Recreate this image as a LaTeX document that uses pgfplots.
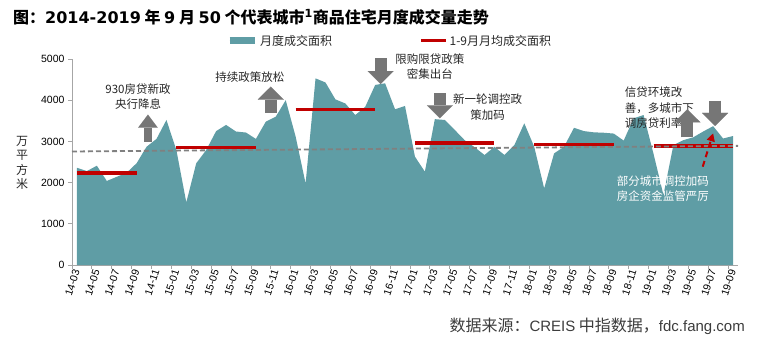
\documentclass[border=0pt]{standalone}
\usepackage{pgfplots}
\pgfplotsset{compat=1.18}
\usepackage{fontspec}
\setmainfont{Liberation Sans}
\newfontfamily\cjk{Noto Sans CJK SC}
\newfontfamily\dejab{DejaVu Sans}
\usetikzlibrary{arrows.meta}
\definecolor{areac}{RGB}{95,157,165}
\definecolor{redl}{RGB}{192,0,0}
\definecolor{trend}{RGB}{128,128,128}
\definecolor{arrg}{RGB}{118,118,118}
\definecolor{axc}{RGB}{166,166,166}
\definecolor{txt}{RGB}{38,38,38}
\newcommand\annfont{\fontsize{11.5bp}{15.5bp}\selectfont}
\newcommand\lat[1]{{\dejab\bfseries #1}}
\begin{document}
\begin{tikzpicture}
\path[use as bounding box] (-72bp,-78bp) rectangle (686bp,265bp);
\begin{axis}[
  at={(0,0)}, anchor=south west,
  scale only axis, width=666bp, height=206bp,
  xmin=-0.5, xmax=66.5, ymin=0, ymax=5000,
  axis x line*=bottom, axis y line*=left,
  axis line style={draw=axc, line width=0.8bp, -},
  clip=false,
  ytick={0,1000,...,5000},
  /pgf/number format/assume math mode=true,
  /pgf/number format/1000 sep={},
  yticklabel style={font=\fontsize{10.5bp}{12bp}\selectfont, text=black},
  tick align=outside, major tick length=4bp, minor tick length=4bp,
  ytick style={draw=axc, line width=0.8bp},
  xtick={0,2,...,66},
  xticklabels={14-03,14-05,14-07,14-09,14-11,15-01,15-03,15-05,15-07,15-09,15-11,16-01,16-03,16-05,16-07,16-09,16-11,17-01,17-03,17-05,17-07,17-09,17-11,18-01,18-03,18-05,18-07,18-09,18-11,19-01,19-03,19-05,19-07,19-09},
  xticklabel style={rotate=72, anchor=east, font=\fontsize{10.5bp}{12bp}\selectfont, text=black, inner sep=1bp},
  major x tick style={draw=none},
  minor xtick={-0.5,1.5,...,65.5},
  minor x tick style={draw=axc, line width=0.8bp},
  legend columns=2,
  legend style={draw=none, fill=none, at={(0.2267,1.089)}, anchor=west,
    font=\cjk\fontsize{12bp}{14bp}\selectfont, text=txt,
    /tikz/every even column/.append style={column sep=85bp}},
]
\addplot[fill=areac, draw=none,
  legend image code/.code={\draw[line width=7bp, areac] (0bp,0bp) -- (25bp,0bp);}]
  coordinates {
(0,2360) (1,2280) (2,2410) (3,2040) (4,2140) (5,2240) (6,2470) (7,2870) (8,3060) (9,3520)
(10,2790) (11,1520) (12,2470) (13,2790) (14,3250) (15,3400) (16,3240) (17,3215) (18,3060) (19,3480)
(20,3600) (21,4000) (22,3115) (23,1980) (24,4530) (25,4430) (26,4020) (27,3920) (28,3640) (29,3840)
(30,4370) (31,4410) (32,3780) (33,3860) (34,2630) (35,2265) (36,3540) (37,3520) (38,3280) (39,3030)
(40,2860) (41,2670) (42,2870) (43,2670) (44,2910) (45,3440) (46,2870) (47,1860) (48,2710) (49,2870)
(50,3330) (51,3250) (52,3220) (53,3210) (54,3190) (55,3020) (56,3560) (57,3640) (58,2700) (59,1700)
(60,2910) (61,3030) (62,3100) (63,3240) (64,3370) (65,3070) (66,3130)
  } \closedcycle;
\addlegendentry{月度成交面积}
\addplot[redl, line width=3.5bp,
  legend image code/.code={\draw[line width=3.5bp, redl] (0bp,0bp) -- (25bp,0bp);}]
  coordinates {(0,2233) (6,2233)};
\addlegendentry{1-9月月均成交面积}
\addplot[redl, line width=3.5bp, forget plot] coordinates {(10,2848) (18,2848)};
\addplot[redl, line width=3.5bp, forget plot] coordinates {(22,3778) (30,3778)};
\addplot[redl, line width=3.5bp, forget plot] coordinates {(34,2961) (42,2961)};
\addplot[redl, line width=3.5bp, forget plot] coordinates {(46,2929) (54,2929)};
\addplot[redl, line width=3.5bp, forget plot] coordinates {(58,2888) (66,2888)};
\addplot[trend, line width=1.8bp, dash pattern=on 5bp off 3bp, forget plot]
  coordinates {(-0.5,2755) (66.5,2892)};

% annotations
\node[font=\cjk\annfont, text=txt, align=center, inner sep=0] at (axis cs:6.14,4085) {930房贷新政\\央行降息};
\node[font=\cjk\annfont, text=txt, align=center, inner sep=0] at (axis cs:17.4,4570) {持续政策放松};
\node[font=\cjk\annfont, text=txt, align=center, inner sep=0] at (axis cs:35.5,4813) {限购限贷政策\\密集出台};
\node[font=\cjk\annfont, text=txt, align=center, inner sep=0] at (axis cs:41.3,3830) {新一轮调控政\\策加码};
\node[font=\cjk\annfont, text=txt, align=left, anchor=west, inner sep=0] at (axis cs:55.1,3810) {信贷环境改\\善，多城市下\\调房贷利率};
\node[font=\cjk\annfont, text=white, align=left, anchor=west, inner sep=0] at (axis cs:54.3,1849) {部分城市调控加码\\房企资金监管严厉};
\node[font=\cjk\fontsize{12bp}{14.4bp}\selectfont, text=txt, align=center, inner sep=0] at (rel axis cs:-0.075,0.495) {万\\平\\方\\米};

% block arrows
\draw[arrg, line width=8.5bp, -{Triangle[width=19.5bp,length=13bp,line width=0.01bp]}] (axis cs:7.14,2990) -- (axis cs:7.14,3650);
\draw[arrg, line width=12bp, -{Triangle[width=26bp,length=13bp,line width=0.01bp]}] (axis cs:19.5,3697) -- (axis cs:19.5,4328);
\draw[arrg, line width=12bp, -{Triangle[width=26bp,length=13bp,line width=0.01bp]}] (axis cs:30.55,5017) -- (axis cs:30.55,4393);
\draw[arrg, line width=12bp, -{Triangle[width=26bp,length=13bp,line width=0.01bp]}] (axis cs:36.5,4167) -- (axis cs:36.5,3561);
\draw[arrg, line width=12bp, -{Triangle[width=26bp,length=13bp,line width=0.01bp]}] (axis cs:61.4,3099) -- (axis cs:61.4,3779);
\draw[arrg, line width=12bp, -{Triangle[width=26bp,length=13bp,line width=0.01bp]}] (axis cs:64.2,3988) -- (axis cs:64.2,3374);
\draw[redl, line width=2bp, dash pattern=on 6bp off 4bp, -{Triangle[width=8bp,length=8bp]}] (axis cs:62.95,2386) -- (axis cs:64,3197);
\end{axis}
\node[anchor=west, inner sep=0, font=\cjk\bfseries\fontsize{16bp}{18bp}\selectfont] at (-59bp,247.5bp) {图：\lat{2014-2019} 年 \lat{9} 月 \lat{50} 个代表城市\textsuperscript{\lat{1}}商品住宅月度成交量走势};
\node[anchor=east, inner sep=0, text=txt!90, font=\cjk\fontsize{16bp}{18bp}\selectfont] at (673bp,-61.5bp) {数据来源：{\rmfamily\fontsize{15bp}{18bp}\selectfont CREIS} 中指数据，{\rmfamily\fontsize{15bp}{18bp}\selectfont fdc.fang.com}};
\end{tikzpicture}
\end{document}
